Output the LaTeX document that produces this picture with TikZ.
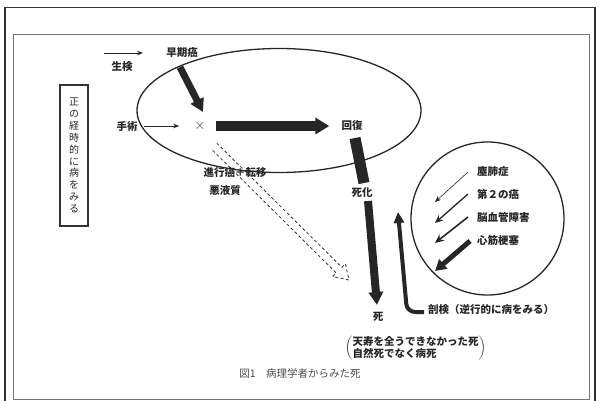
\documentclass[tikz,border=0pt]{standalone}
\usepackage{fontspec}
\newfontfamily\jp{Noto Sans CJK JP}
\usetikzlibrary{arrows.meta,shapes.geometric,calc}
\begin{document}
\begin{tikzpicture}[x=1pt,y=-1pt,
  lbl/.style={font=\jp\bfseries\fontsize{10.5}{12}\selectfont, inner sep=1pt, text=black!85},
  thinarr/.style={line width=0.7pt, black!85, -{Stealth[length=6pt,width=4.5pt]}},
  bigarr/.style={line width=9pt, black!85, -{Triangle[length=14pt,width=16pt]}},
  medarr/.style={line width=7pt, black!85, -{Triangle[length=13pt,width=14pt]}},
  bar/.style={line width=11pt, black!85},
  autoarr/.style={line width=4pt, black!85, rounded corners=8pt, -{Triangle[length=11pt,width=10pt]}},
  dashline/.style={line width=0.8pt, black!80, dash pattern=on 3pt off 2.5pt},
  cl1/.style={line width=0.6pt, black!85, -{Stealth[length=6pt,width=5pt]}},
  cl2/.style={line width=1.3pt, black!85, -{Stealth[length=8pt,width=7pt]}},
  cl3/.style={line width=1.6pt, black!85, -{Stealth[length=9pt,width=8pt]}},
  cl4/.style={line width=5pt, black!85, -{Triangle[length=11pt,width=12pt]}}
]
\useasboundingbox (0,0) rectangle (599,401);
% frames
\draw[line width=1.8pt, black!80] (5,401) -- (5,7.5) -- (595,7.5) -- (595,401);
\draw[line width=0.6pt, black!55] (13,34) rectangle (589,399);

% vertical box
\node[draw, line width=1.2pt, black!80, minimum width=28pt, minimum height=141pt, inner sep=0pt, align=center,
      font=\jp\fontsize{10}{11.9}\selectfont, text=black!85] (vbox) at (74,155.5)
      {正\\の\\経\\時\\的\\に\\病\\を\\み\\る};

% big oval
\node[draw, ellipse, line width=1.3pt, black!85, minimum width=284pt, minimum height=124pt, inner sep=0pt] (oval) at (279,110.5) {};

% labels
\node[lbl] (early) at (182,53) {早期癌};
\node[lbl] (bio) at (122,67) {生検};
\node[lbl] (surg) at (127,126) {手術};
\node[font=\fontsize{15}{16}\selectfont, inner sep=1pt, text=black!80] (x) at (200,126) {$\times$};
\node[lbl] (recov) at (352,126) {回復};
\node[lbl] (adv) at (235,173) {進行癌＋転移};
\node[lbl] (cach) at (225,191) {悪液質};
\node[lbl] (worse) at (362,193) {死化};
\node[lbl] (death) at (378,317) {死};
\node[lbl, anchor=west] (autopsy) at (427,310) {剖検（逆行的に病をみる）};
\node[lbl, anchor=west, inner sep=0pt] (paren) at (345,348.5)
  {$\left(\vcenter{\hbox{\begin{tabular}{@{}l@{}}天寿を全うできなかった死\\[-1pt]自然死でなく病死\end{tabular}}}\right)$};
\node[font=\jp\fontsize{10.5}{12}\selectfont, inner sep=1pt, text=black!70] (cap) at (300,373) {図1　病理学者からみた死};

% arrows in oval
\draw[thinarr] ([xshift=-61pt]early.west) -- ([xshift=-22pt]early.west);
\draw[medarr] ([xshift=-2pt,yshift=-8pt]early.south) -- ([xshift=3pt,yshift=8pt]x.north);
\draw[thinarr, shorten <=5pt, shorten >=14pt] (surg.east) -- (x.west);
\draw[bigarr, shorten <=9pt, shorten >=11pt] (x.east) -- (recov.west);

% recovery -> death
\draw[bar] ([xshift=3pt,yshift=-12pt]recov.center) -- ([xshift=2pt,yshift=10pt]worse.center);
\draw[medarr, line width=8pt] ([xshift=6pt,yshift=-8pt]worse.center) -- ([xshift=-1pt,yshift=12pt]death.center);

% dashed double arrow
\coordinate (ds) at (214,146);
\coordinate (dt) at (349,280);
\coordinate (db) at ($(dt)!14pt!(ds)$);
\draw[dashline] ($(ds)!4pt!90:(dt)$) -- ($(db)!4pt!90:(dt)$) -- ($(db)!9pt!90:(dt)$) -- (dt)
  -- ($(db)!9pt!-90:(dt)$) -- ($(db)!4pt!-90:(dt)$) -- ($(ds)!4pt!-90:(dt)$);

% autopsy arrow
\coordinate (autotip) at (398,212);
\draw[autoarr] ([xshift=-3pt,yshift=-2pt]autopsy.west) -- (407,312) -- (autotip);

% circle
\node[draw, circle, line width=1.3pt, black!85, minimum size=153pt, inner sep=0pt] (circ) at (487.5,218.5) {};
\node[lbl, anchor=west] (c1) at (476,172) {塵肺症};
\node[lbl, anchor=west] (c2) at (476,194) {第２の癌};
\node[lbl, anchor=west] (c3) at (476,217) {脳血管障害};
\node[lbl, anchor=west] (c4) at (476,240) {心筋梗塞};
\draw[cl1] ([xshift=-8pt]c1.west) -- ++(-33,30);
\draw[cl2] ([xshift=-8pt]c2.west) -- ++(-33,29);
\draw[cl3] ([xshift=-8pt]c3.west) -- ++(-33,26);
\draw[cl4] ([xshift=-6pt,yshift=-1pt]c4.west) -- ++(-35,30);
\end{tikzpicture}
\end{document}
